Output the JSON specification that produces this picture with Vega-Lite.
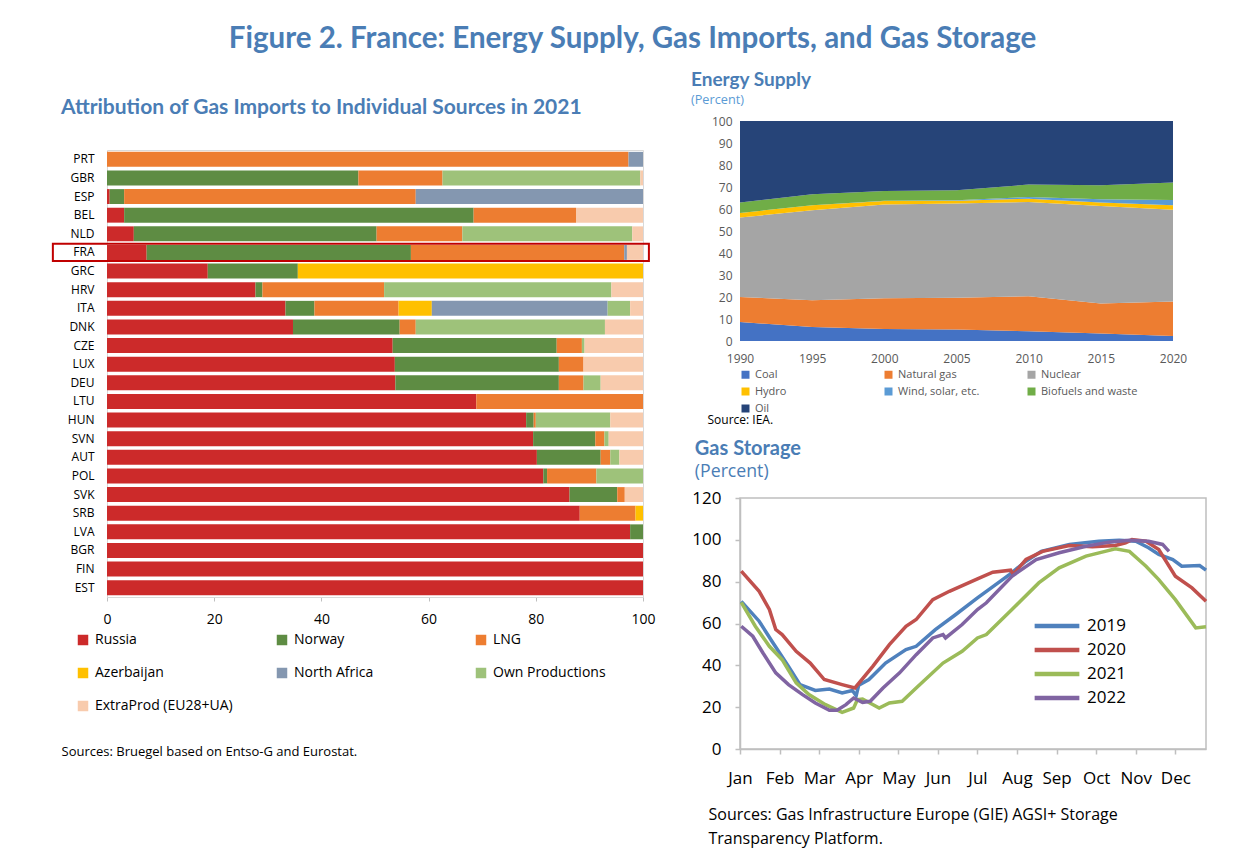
{
  "$schema": "https://vega.github.io/schema/vega-lite/v6.json",
  "background": "white",
  "padding": {"left": 51, "top": 23, "right": 5, "bottom": 5},
  "title": {"text": "Figure 2. France: Energy Supply, Gas Imports, and Gas Storage", "anchor": "middle", "font": "Lato", "fontSize": 29.5, "fontWeight": "bold", "color": "#4a7db5", "offset": 17},
  "config": {"font": "Open Sans", "view": {"stroke": null}},
  "datasets": {
    "imports": [
      {"country": "PRT", "source": "LNG", "value": 97.3}, {"country": "PRT", "source": "North Africa", "value": 2.7},
      {"country": "GBR", "source": "Norway", "value": 46.9}, {"country": "GBR", "source": "LNG", "value": 15.7}, {"country": "GBR", "source": "Own Productions", "value": 36.9}, {"country": "GBR", "source": "ExtraProd (EU28+UA)", "value": 0.5},
      {"country": "ESP", "source": "Russia", "value": 0.5}, {"country": "ESP", "source": "Norway", "value": 2.7}, {"country": "ESP", "source": "LNG", "value": 54.4}, {"country": "ESP", "source": "North Africa", "value": 42.4},
      {"country": "BEL", "source": "Russia", "value": 3.2}, {"country": "BEL", "source": "Norway", "value": 65.2}, {"country": "BEL", "source": "LNG", "value": 19.1}, {"country": "BEL", "source": "ExtraProd (EU28+UA)", "value": 12.5},
      {"country": "NLD", "source": "Russia", "value": 5.0}, {"country": "NLD", "source": "Norway", "value": 45.3}, {"country": "NLD", "source": "LNG", "value": 16.0}, {"country": "NLD", "source": "Own Productions", "value": 31.7}, {"country": "NLD", "source": "ExtraProd (EU28+UA)", "value": 2.0},
      {"country": "FRA", "source": "Russia", "value": 7.4}, {"country": "FRA", "source": "Norway", "value": 49.3}, {"country": "FRA", "source": "LNG", "value": 39.8}, {"country": "FRA", "source": "North Africa", "value": 0.5}, {"country": "FRA", "source": "ExtraProd (EU28+UA)", "value": 3.0},
      {"country": "GRC", "source": "Russia", "value": 18.8}, {"country": "GRC", "source": "Norway", "value": 16.8}, {"country": "GRC", "source": "Azerbaijan", "value": 64.4},
      {"country": "HRV", "source": "Russia", "value": 27.7}, {"country": "HRV", "source": "Norway", "value": 1.3}, {"country": "HRV", "source": "LNG", "value": 22.7}, {"country": "HRV", "source": "Own Productions", "value": 42.4}, {"country": "HRV", "source": "ExtraProd (EU28+UA)", "value": 5.9},
      {"country": "ITA", "source": "Russia", "value": 33.3}, {"country": "ITA", "source": "Norway", "value": 5.4}, {"country": "ITA", "source": "LNG", "value": 15.7}, {"country": "ITA", "source": "Azerbaijan", "value": 6.2}, {"country": "ITA", "source": "North Africa", "value": 32.8}, {"country": "ITA", "source": "Own Productions", "value": 4.2}, {"country": "ITA", "source": "ExtraProd (EU28+UA)", "value": 2.4},
      {"country": "DNK", "source": "Russia", "value": 34.7}, {"country": "DNK", "source": "Norway", "value": 19.9}, {"country": "DNK", "source": "LNG", "value": 3.0}, {"country": "DNK", "source": "Own Productions", "value": 35.3}, {"country": "DNK", "source": "ExtraProd (EU28+UA)", "value": 7.1},
      {"country": "CZE", "source": "Russia", "value": 53.3}, {"country": "CZE", "source": "Norway", "value": 30.6}, {"country": "CZE", "source": "LNG", "value": 4.7}, {"country": "CZE", "source": "Own Productions", "value": 0.5}, {"country": "CZE", "source": "ExtraProd (EU28+UA)", "value": 10.9},
      {"country": "LUX", "source": "Russia", "value": 53.7}, {"country": "LUX", "source": "Norway", "value": 30.6}, {"country": "LUX", "source": "LNG", "value": 4.6}, {"country": "LUX", "source": "ExtraProd (EU28+UA)", "value": 11.1},
      {"country": "DEU", "source": "Russia", "value": 53.8}, {"country": "DEU", "source": "Norway", "value": 30.5}, {"country": "DEU", "source": "LNG", "value": 4.6}, {"country": "DEU", "source": "Own Productions", "value": 3.2}, {"country": "DEU", "source": "ExtraProd (EU28+UA)", "value": 7.9},
      {"country": "LTU", "source": "Russia", "value": 68.9}, {"country": "LTU", "source": "LNG", "value": 31.1},
      {"country": "HUN", "source": "Russia", "value": 78.2}, {"country": "HUN", "source": "Norway", "value": 1.4}, {"country": "HUN", "source": "LNG", "value": 0.4}, {"country": "HUN", "source": "Own Productions", "value": 13.9}, {"country": "HUN", "source": "ExtraProd (EU28+UA)", "value": 6.1},
      {"country": "SVN", "source": "Russia", "value": 79.5}, {"country": "SVN", "source": "Norway", "value": 11.6}, {"country": "SVN", "source": "LNG", "value": 1.7}, {"country": "SVN", "source": "Own Productions", "value": 0.8}, {"country": "SVN", "source": "ExtraProd (EU28+UA)", "value": 6.4},
      {"country": "AUT", "source": "Russia", "value": 80.2}, {"country": "AUT", "source": "Norway", "value": 11.9}, {"country": "AUT", "source": "LNG", "value": 1.8}, {"country": "AUT", "source": "Own Productions", "value": 1.7}, {"country": "AUT", "source": "ExtraProd (EU28+UA)", "value": 4.4},
      {"country": "POL", "source": "Russia", "value": 81.4}, {"country": "POL", "source": "Norway", "value": 0.7}, {"country": "POL", "source": "LNG", "value": 9.2}, {"country": "POL", "source": "Own Productions", "value": 8.7},
      {"country": "SVK", "source": "Russia", "value": 86.3}, {"country": "SVK", "source": "Norway", "value": 8.9}, {"country": "SVK", "source": "LNG", "value": 1.4}, {"country": "SVK", "source": "ExtraProd (EU28+UA)", "value": 3.4},
      {"country": "SRB", "source": "Russia", "value": 88.2}, {"country": "SRB", "source": "LNG", "value": 10.4}, {"country": "SRB", "source": "Azerbaijan", "value": 1.4},
      {"country": "LVA", "source": "Russia", "value": 97.6}, {"country": "LVA", "source": "Norway", "value": 2.4},
      {"country": "BGR", "source": "Russia", "value": 100},
      {"country": "FIN", "source": "Russia", "value": 100},
      {"country": "EST", "source": "Russia", "value": 100}
    ],
    "energy": [
      {"year": 1990, "source": "Coal", "value": 8.6}, {"year": 1990, "source": "Natural gas", "value": 11.4}, {"year": 1990, "source": "Nuclear", "value": 36.1}, {"year": 1990, "source": "Hydro", "value": 2.1}, {"year": 1990, "source": "Wind, solar, etc.", "value": 0.0}, {"year": 1990, "source": "Biofuels and waste", "value": 4.8}, {"year": 1990, "source": "Oil", "value": 37.0},
      {"year": 1995, "source": "Coal", "value": 6.4}, {"year": 1995, "source": "Natural gas", "value": 12.1}, {"year": 1995, "source": "Nuclear", "value": 40.9}, {"year": 1995, "source": "Hydro", "value": 2.3}, {"year": 1995, "source": "Wind, solar, etc.", "value": 0.0}, {"year": 1995, "source": "Biofuels and waste", "value": 5.0}, {"year": 1995, "source": "Oil", "value": 33.3},
      {"year": 2000, "source": "Coal", "value": 5.5}, {"year": 2000, "source": "Natural gas", "value": 13.9}, {"year": 2000, "source": "Nuclear", "value": 42.6}, {"year": 2000, "source": "Hydro", "value": 1.6}, {"year": 2000, "source": "Wind, solar, etc.", "value": 0.1}, {"year": 2000, "source": "Biofuels and waste", "value": 4.5}, {"year": 2000, "source": "Oil", "value": 31.8},
      {"year": 2005, "source": "Coal", "value": 5.2}, {"year": 2005, "source": "Natural gas", "value": 14.5}, {"year": 2005, "source": "Nuclear", "value": 42.8}, {"year": 2005, "source": "Hydro", "value": 1.2}, {"year": 2005, "source": "Wind, solar, etc.", "value": 0.3}, {"year": 2005, "source": "Biofuels and waste", "value": 4.5}, {"year": 2005, "source": "Oil", "value": 31.5},
      {"year": 2010, "source": "Coal", "value": 4.4}, {"year": 2010, "source": "Natural gas", "value": 15.9}, {"year": 2010, "source": "Nuclear", "value": 42.9}, {"year": 2010, "source": "Hydro", "value": 1.5}, {"year": 2010, "source": "Wind, solar, etc.", "value": 0.8}, {"year": 2010, "source": "Biofuels and waste", "value": 5.6}, {"year": 2010, "source": "Oil", "value": 28.9},
      {"year": 2015, "source": "Coal", "value": 3.4}, {"year": 2015, "source": "Natural gas", "value": 13.6}, {"year": 2015, "source": "Nuclear", "value": 44.4}, {"year": 2015, "source": "Hydro", "value": 1.6}, {"year": 2015, "source": "Wind, solar, etc.", "value": 1.4}, {"year": 2015, "source": "Biofuels and waste", "value": 6.4}, {"year": 2015, "source": "Oil", "value": 29.2},
      {"year": 2020, "source": "Coal", "value": 2.3}, {"year": 2020, "source": "Natural gas", "value": 15.6}, {"year": 2020, "source": "Nuclear", "value": 41.8}, {"year": 2020, "source": "Hydro", "value": 2.0}, {"year": 2020, "source": "Wind, solar, etc.", "value": 2.4}, {"year": 2020, "source": "Biofuels and waste", "value": 8.0}, {"year": 2020, "source": "Oil", "value": 27.9}
    ],
    "storage": [
      {"year": "2019", "day": 1, "value": 70.6}, {"year": "2019", "day": 15, "value": 61.1}, {"year": "2019", "day": 25, "value": 51.5}, {"year": "2019", "day": 38, "value": 39.5}, {"year": "2019", "day": 47, "value": 30.8}, {"year": "2019", "day": 59, "value": 28.0}, {"year": "2019", "day": 70, "value": 28.7}, {"year": "2019", "day": 80, "value": 26.8}, {"year": "2019", "day": 88, "value": 28.0}, {"year": "2019", "day": 91, "value": 25.5}, {"year": "2019", "day": 93, "value": 30.5}, {"year": "2019", "day": 101, "value": 33.2}, {"year": "2019", "day": 114, "value": 41.1}, {"year": "2019", "day": 130, "value": 47.5}, {"year": "2019", "day": 138, "value": 49.1}, {"year": "2019", "day": 153, "value": 57.1}, {"year": "2019", "day": 169, "value": 64.3}, {"year": "2019", "day": 186, "value": 72.2}, {"year": "2019", "day": 193, "value": 75.4}, {"year": "2019", "day": 211, "value": 83.4}, {"year": "2019", "day": 224, "value": 89.8}, {"year": "2019", "day": 236, "value": 94.5}, {"year": "2019", "day": 258, "value": 97.8}, {"year": "2019", "day": 281, "value": 99.3}, {"year": "2019", "day": 297, "value": 99.8}, {"year": "2019", "day": 310, "value": 99.3}, {"year": "2019", "day": 320, "value": 96.2}, {"year": "2019", "day": 328, "value": 93.0}, {"year": "2019", "day": 339, "value": 90.6}, {"year": "2019", "day": 346, "value": 87.4}, {"year": "2019", "day": 360, "value": 87.7}, {"year": "2019", "day": 365, "value": 85.5},
      {"year": "2020", "day": 1, "value": 85.0}, {"year": "2020", "day": 15, "value": 75.4}, {"year": "2020", "day": 23, "value": 66.7}, {"year": "2020", "day": 28, "value": 57.1}, {"year": "2020", "day": 33, "value": 54.7}, {"year": "2020", "day": 44, "value": 46.7}, {"year": "2020", "day": 55, "value": 41.1}, {"year": "2020", "day": 66, "value": 33.2}, {"year": "2020", "day": 80, "value": 30.8}, {"year": "2020", "day": 90, "value": 29.2}, {"year": "2020", "day": 104, "value": 39.5}, {"year": "2020", "day": 117, "value": 49.9}, {"year": "2020", "day": 130, "value": 58.7}, {"year": "2020", "day": 138, "value": 61.9}, {"year": "2020", "day": 151, "value": 71.4}, {"year": "2020", "day": 164, "value": 75.4}, {"year": "2020", "day": 186, "value": 81.3}, {"year": "2020", "day": 198, "value": 84.5}, {"year": "2020", "day": 212, "value": 85.5}, {"year": "2020", "day": 214, "value": 83.5}, {"year": "2020", "day": 224, "value": 90.6}, {"year": "2020", "day": 237, "value": 94.5}, {"year": "2020", "day": 258, "value": 97.3}, {"year": "2020", "day": 276, "value": 96.7}, {"year": "2020", "day": 294, "value": 97.3}, {"year": "2020", "day": 302, "value": 98.6}, {"year": "2020", "day": 307, "value": 100.1}, {"year": "2020", "day": 318, "value": 99.3}, {"year": "2020", "day": 328, "value": 95.4}, {"year": "2020", "day": 341, "value": 82.6}, {"year": "2020", "day": 354, "value": 77.0}, {"year": "2020", "day": 365, "value": 70.6},
      {"year": "2021", "day": 1, "value": 70.1}, {"year": "2021", "day": 12, "value": 58.7}, {"year": "2021", "day": 23, "value": 49.1}, {"year": "2021", "day": 33, "value": 42.7}, {"year": "2021", "day": 44, "value": 31.6}, {"year": "2021", "day": 54, "value": 26.0}, {"year": "2021", "day": 67, "value": 21.2}, {"year": "2021", "day": 80, "value": 17.5}, {"year": "2021", "day": 89, "value": 19.6}, {"year": "2021", "day": 92, "value": 23.6}, {"year": "2021", "day": 96, "value": 23.9}, {"year": "2021", "day": 109, "value": 19.6}, {"year": "2021", "day": 117, "value": 22.0}, {"year": "2021", "day": 127, "value": 22.8}, {"year": "2021", "day": 138, "value": 29.2}, {"year": "2021", "day": 159, "value": 41.1}, {"year": "2021", "day": 174, "value": 46.7}, {"year": "2021", "day": 186, "value": 53.1}, {"year": "2021", "day": 193, "value": 54.7}, {"year": "2021", "day": 213, "value": 66.7}, {"year": "2021", "day": 234, "value": 79.4}, {"year": "2021", "day": 250, "value": 86.6}, {"year": "2021", "day": 271, "value": 92.2}, {"year": "2021", "day": 286, "value": 94.5}, {"year": "2021", "day": 294, "value": 95.7}, {"year": "2021", "day": 305, "value": 94.5}, {"year": "2021", "day": 318, "value": 87.4}, {"year": "2021", "day": 328, "value": 81.0}, {"year": "2021", "day": 341, "value": 71.4}, {"year": "2021", "day": 357, "value": 57.9}, {"year": "2021", "day": 365, "value": 58.4},
      {"year": "2022", "day": 1, "value": 58.7}, {"year": "2022", "day": 10, "value": 53.9}, {"year": "2022", "day": 18, "value": 45.9}, {"year": "2022", "day": 28, "value": 36.4}, {"year": "2022", "day": 38, "value": 30.8}, {"year": "2022", "day": 49, "value": 26.0}, {"year": "2022", "day": 59, "value": 22.0}, {"year": "2022", "day": 70, "value": 18.5}, {"year": "2022", "day": 76, "value": 18.5}, {"year": "2022", "day": 83, "value": 21.2}, {"year": "2022", "day": 89, "value": 24.4}, {"year": "2022", "day": 96, "value": 22.3}, {"year": "2022", "day": 102, "value": 22.8}, {"year": "2022", "day": 112, "value": 29.2}, {"year": "2022", "day": 125, "value": 36.4}, {"year": "2022", "day": 138, "value": 45.1}, {"year": "2022", "day": 151, "value": 53.1}, {"year": "2022", "day": 159, "value": 54.7}, {"year": "2022", "day": 161, "value": 53.1}, {"year": "2022", "day": 174, "value": 59.5}, {"year": "2022", "day": 186, "value": 66.7}, {"year": "2022", "day": 193, "value": 69.9}, {"year": "2022", "day": 213, "value": 82.6}, {"year": "2022", "day": 232, "value": 90.6}, {"year": "2022", "day": 250, "value": 93.8}, {"year": "2022", "day": 271, "value": 96.9}, {"year": "2022", "day": 289, "value": 98.9}, {"year": "2022", "day": 305, "value": 99.8}, {"year": "2022", "day": 320, "value": 99.3}, {"year": "2022", "day": 331, "value": 97.8}, {"year": "2022", "day": 336, "value": 94.5}
    ]
  },
  "spacing": 35,
  "resolve": {"scale": {"color": "independent"}, "legend": {"color": "independent"}},
  "hconcat": [
    {
      "spacing": 20,
      "resolve": {"scale": {"color": "independent"}, "legend": {"color": "independent"}},
      "vconcat": [
        {
          "width": 10, "height": 8,
          "title": {"text": "Attribution of Gas Imports to Individual Sources in 2021", "anchor": "start", "font": "Lato", "fontSize": 21, "fontWeight": "bold", "color": "#4a7db5", "offset": 3, "dx": -46},
          "data": {"values": [{"a": 0}]},
          "mark": {"type": "point", "opacity": 0},
          "encoding": {}
        },
        {
          "width": 536, "height": 447,
          "view": {"stroke": "#d9d9d9"},
          "data": {"name": "imports"},
          "layer": [
            {
              "transform": [{"calculate": "indexof(['Russia','Norway','LNG','Azerbaijan','North Africa','Own Productions','ExtraProd (EU28+UA)'], datum.source)", "as": "k"}],
              "mark": {"type": "bar"},
              "encoding": {
                "y": {"field": "country", "type": "nominal", "title": null,
                  "sort": ["PRT","GBR","ESP","BEL","NLD","FRA","GRC","HRV","ITA","DNK","CZE","LUX","DEU","LTU","HUN","SVN","AUT","POL","SVK","SRB","LVA","BGR","FIN","EST"],
                  "scale": {"paddingInner": 0.2, "paddingOuter": 0.1},
                  "axis": {"ticks": false, "domain": false, "labelFontSize": 12, "labelColor": "#000000", "labelPadding": 13}},
                "x": {"field": "value", "type": "quantitative", "stack": "zero",
                  "scale": {"domain": [0, 100], "nice": false},
                  "axis": {"values": [0, 20, 40, 60, 80, 100], "grid": false, "labelFlush": false, "labelFontSize": 14, "labelColor": "#000000", "tickSize": 4, "tickColor": "#bfbfbf", "domainColor": "#d9d9d9", "labelPadding": 11,
                    "title": "Sources: Bruegel based on Entso-G and Eurostat.", "titleX": -46, "titleY": 148, "titleAnchor": "start", "titleAlign": "left", "titleBaseline": "top", "titleFontSize": 13, "titleFontWeight": "normal", "titleColor": "#000000"}},
                "color": {"field": "source", "type": "nominal",
                  "scale": {"domain": ["Russia","Norway","LNG","Azerbaijan","North Africa","Own Productions","ExtraProd (EU28+UA)"],
                            "range": ["#cc2a2a","#5e8c43","#ed7d31","#ffc000","#8497b0","#9ec27a","#f8cbad"]},
                  "legend": {"orient": "none", "legendX": -31, "legendY": 483, "direction": "horizontal", "columns": 3, "gridAlign": "all", "title": null, "symbolType": "square", "symbolSize": 110, "symbolStrokeWidth": 0, "labelFontSize": 14, "labelColor": "#000000", "labelOffset": 5, "columnPadding": 42, "rowPadding": 19, "labelLimit": 300}},
                "order": {"field": "k", "type": "quantitative"}
              }
            },
            {
              "transform": [{"filter": "datum.country === 'FRA' && datum.source === 'Russia'"}],
              "mark": {"type": "bar", "filled": false, "stroke": "#c00000", "strokeWidth": 2, "clip": false, "height": {"band": 1.15}},
              "encoding": {
                "y": {"field": "country", "type": "nominal", "sort": ["PRT","GBR","ESP","BEL","NLD","FRA","GRC","HRV","ITA","DNK","CZE","LUX","DEU","LTU","HUN","SVN","AUT","POL","SVK","SRB","LVA","BGR","FIN","EST"]},
                "x": {"datum": -10.1, "type": "quantitative"},
                "x2": {"datum": 101.1}
              }
            }
          ]
        }
      ]
    },
    {
      "spacing": 13,
      "resolve": {"scale": {"color": "independent"}, "legend": {"color": "independent"}},
      "vconcat": [
        {
          "width": 433, "height": 220,
          "title": {"text": "Energy Supply", "subtitle": "(Percent)", "anchor": "start", "font": "Lato", "fontSize": 19, "fontWeight": "bold", "color": "#4a7db5", "subtitleFont": "Open Sans", "subtitleFontSize": 12.7, "subtitleColor": "#5b9bd5", "subtitlePadding": 4, "offset": 8, "dx": -16},
          "data": {"name": "energy"},
          "transform": [{"calculate": "indexof(['Coal','Natural gas','Nuclear','Hydro','Wind, solar, etc.','Biofuels and waste','Oil'], datum.source)", "as": "k"}],
          "mark": {"type": "area", "opacity": 1},
          "encoding": {
            "x": {"field": "year", "type": "quantitative", "scale": {"domain": [1990, 2020], "nice": false},
              "axis": {"values": [1990, 1995, 2000, 2005, 2010, 2015, 2020], "format": "d", "grid": false, "ticks": false, "domain": false, "labelFlush": false, "labelFontSize": 12, "labelColor": "#595959", "labelPadding": 12,
                "title": "Source: IEA.", "titleX": -33, "titleY": 73, "titleAnchor": "start", "titleAlign": "left", "titleBaseline": "top", "titleFontSize": 12, "titleFontWeight": "normal", "titleColor": "#000000"}},
            "y": {"field": "value", "type": "quantitative", "stack": "zero", "scale": {"domain": [0, 100], "nice": false},
              "axis": {"values": [0, 10, 20, 30, 40, 50, 60, 70, 80, 90, 100], "grid": false, "ticks": false, "domain": false, "labelFontSize": 12, "labelColor": "#595959", "labelPadding": 8, "title": null}},
            "color": {"field": "source", "type": "nominal",
              "scale": {"domain": ["Coal","Natural gas","Nuclear","Hydro","Wind, solar, etc.","Biofuels and waste","Oil"],
                        "range": ["#4472c4","#ed7d31","#a5a5a5","#ffc000","#5b9bd5","#70ad47","#264478"]},
              "legend": {"orient": "none", "legendX": 0, "legendY": 248, "direction": "horizontal", "columns": 3, "gridAlign": "all", "title": null, "symbolType": "square", "symbolSize": 64, "symbolStrokeWidth": 0, "labelFontSize": 11, "labelColor": "#595959", "labelOffset": 4, "columnPadding": 31, "rowPadding": 5, "labelLimit": 300}},
            "order": {"field": "k", "type": "quantitative"}
          }
        },
        {
          "width": 466, "height": 251,
          "title": {"text": "Gas Storage", "subtitle": "(Percent)", "anchor": "start", "font": "Lato", "fontSize": 20, "fontWeight": "bold", "color": "#4a7db5", "subtitleFont": "Open Sans", "subtitleFontSize": 17.7, "subtitleColor": "#4a7db5", "subtitlePadding": 4, "offset": 8, "dx": 3},
          "view": {"stroke": "#bfbfbf", "strokeWidth": 1.5},
          "data": {"name": "storage"},
          "mark": {"type": "line", "strokeWidth": 3.5},
          "encoding": {
            "x": {"field": "day", "type": "quantitative", "scale": {"domain": [0, 365], "nice": false},
              "axis": {"values": [0, 31, 62, 93, 124, 155, 186, 217, 248, 279, 310, 341], "labelExpr": "['Jan','Feb','Mar','Apr','May','Jun','Jul','Aug','Sep','Oct','Nov','Dec'][round(datum.value / 31)]",
                "grid": false, "labelFlush": false, "labelOverlap": false, "labelFontSize": 17, "labelColor": "#000000", "domainColor": "#bfbfbf", "domainWidth": 1.5, "tickColor": "#bfbfbf", "tickWidth": 1.5, "tickSize": 5, "labelPadding": 16,
                "title": ["Sources: Gas Infrastructure Europe (GIE) AGSI+ Storage", "Transparency Platform."], "titleX": -32, "titleY": 57, "titleAnchor": "start", "titleAlign": "left", "titleBaseline": "top", "titleFontSize": 16, "titleFontWeight": "normal", "titleColor": "#000000", "titleLineHeight": 24}},
            "y": {"field": "value", "type": "quantitative", "scale": {"domain": [0, 120], "nice": false},
              "axis": {"values": [0, 20, 40, 60, 80, 100, 120], "grid": false, "labelFontSize": 17, "labelColor": "#000000", "domainColor": "#bfbfbf", "domainWidth": 1.5, "tickColor": "#bfbfbf", "tickWidth": 1.5, "tickSize": 5, "labelPadding": 14, "title": null}},
            "color": {"field": "year", "type": "nominal",
              "scale": {"domain": ["2019", "2020", "2021", "2022"], "range": ["#4f81bd", "#c0504d", "#9bbb59", "#8064a2"]},
              "legend": {"orient": "none", "legendX": 292, "legendY": 118, "title": null, "symbolType": "stroke", "symbolSize": 2000, "symbolStrokeWidth": 4.5, "clipHeight": 20, "labelFontSize": 17, "labelColor": "#000000", "labelOffset": 5, "rowPadding": 4}}
          }
        }
      ]
    }
  ]
}
